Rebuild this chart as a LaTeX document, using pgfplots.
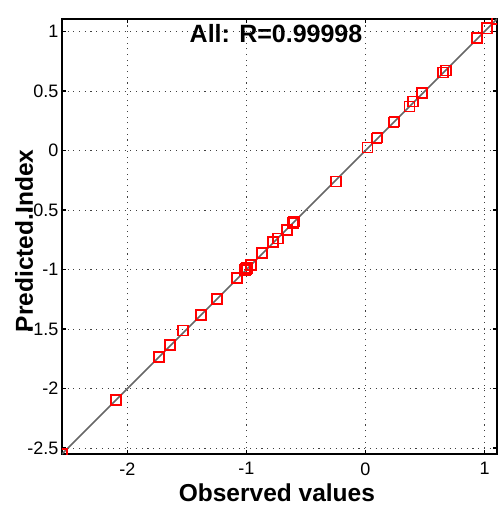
\documentclass[border=0pt]{standalone}
\usepackage{fontspec}
\setmainfont{Liberation Sans}
\usepackage{pgfplots}
\pgfplotsset{compat=1.18}

\pgfplotstableread{
x y
-2.550 -2.550
-2.095 -2.095
-1.732 -1.736
-1.642 -1.632
-1.536 -1.512
-1.383 -1.380
-1.249 -1.248
-1.081 -1.071
-1.014 -1.001
-0.997 -0.984
-1.005 -0.993
-0.964 -0.959
-0.872 -0.858
-0.779 -0.766
-0.737 -0.740
-0.662 -0.665
-0.612 -0.606
-0.603 -0.597
-0.251 -0.261
0.017 0.025
0.092 0.101
0.101 0.109
0.235 0.236
0.243 0.244
0.369 0.370
0.402 0.412
0.478 0.480
0.654 0.656
0.679 0.673
0.939 0.942
1.022 1.026
1.105 1.105
}\obs

\begin{document}
\begin{tikzpicture}
\useasboundingbox (-62pt,-53pt) rectangle (438pt,454pt);
\begin{axis}[
  at={(0pt,0pt)}, anchor=south west,
  scale only axis, width=435pt, height=435pt,
  xmin=-2.55, xmax=1.105, ymin=-2.55, ymax=1.105,
  xtick={-2,-1,0,1},
  xticklabels={-2,-1,0,1},
  ytick={-2.5,-2,-1.5,-1,-0.5,0,0.5,1},
  yticklabels={-2.5,-2,-1.5,-1,-0.5,0,0.5,1},
  grid=major,
  grid style={black!75, line width=0.9pt, dash pattern=on 1.1pt off 4.6pt},
  tick align=inside,
  major tick length=4pt,
  tick style={black, line width=1.2pt},
  axis line style={black, line width=1.8pt},
  tick label style={font=\fontsize{18}{18}\selectfont},
  xticklabel style={yshift=-5pt},
  xlabel={Observed values},
  ylabel={Predicted.Index},
  label style={font=\fontsize{24.5}{24.5}\selectfont\bfseries},
  xlabel style={at={(axis description cs:0.494,0)}, anchor=base, yshift=-47pt},
  ylabel style={at={(axis description cs:-0.0667,0.49)}, anchor=base},
  title={All: R=0.99998},
  title style={at={(axis description cs:0.492,0.933)}, anchor=base,
    font=\fontsize{25}{25}\selectfont\bfseries},
  clip marker paths=true,
]
\addplot[black!60, line width=1.6pt] coordinates {(-2.55,-2.55) (1.105,1.105)};
\addplot[only marks, mark=square, mark size=5pt,
  mark options={draw=red, fill=none, line width=1.8pt}] table[x=x, y=y] {\obs};
\end{axis}
\end{tikzpicture}
\end{document}
